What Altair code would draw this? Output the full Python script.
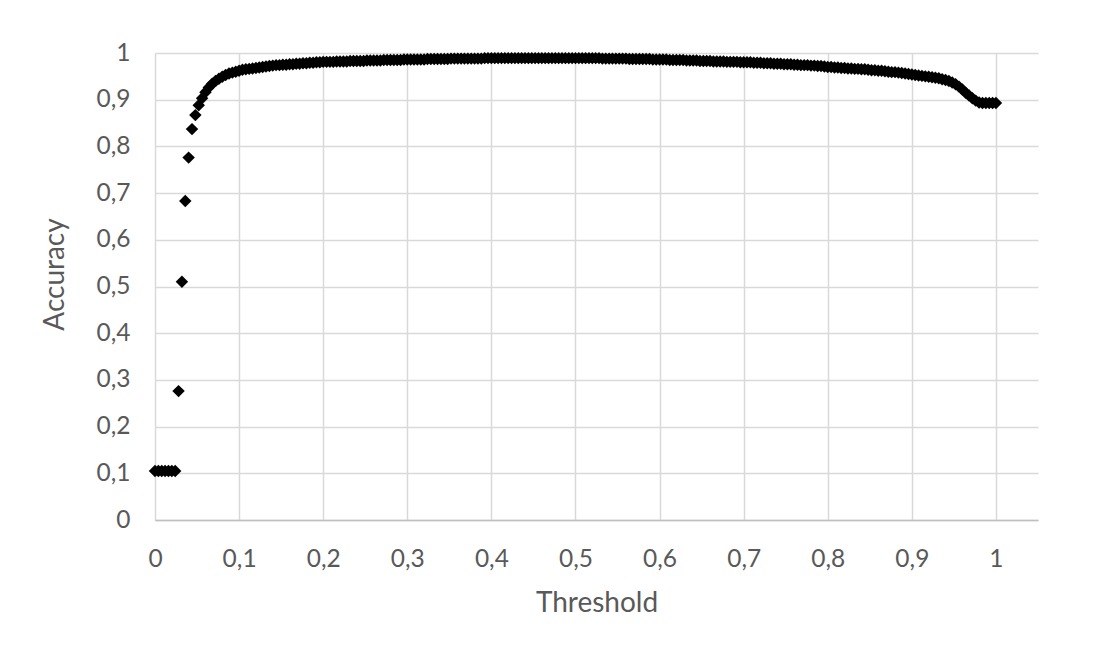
import altair as alt
import pandas as pd

thresholds = [
    0.000, 0.004, 0.008, 0.012, 0.016, 0.020, 0.024, 0.028, 0.032, 0.036, 0.040, 0.044, 0.048,
    0.052, 0.056, 0.060, 0.064, 0.068, 0.072, 0.076, 0.080, 0.084, 0.088, 0.092, 0.096, 0.100,
    0.104, 0.108, 0.112, 0.116, 0.120, 0.124, 0.128, 0.132, 0.136, 0.140, 0.144, 0.148, 0.152,
    0.156, 0.160, 0.164, 0.168, 0.172, 0.176, 0.180, 0.184, 0.188, 0.192, 0.196, 0.200,
    0.204, 0.208, 0.212, 0.216, 0.220, 0.224, 0.228, 0.232, 0.236, 0.240, 0.244, 0.248, 0.252,
    0.256, 0.260, 0.264, 0.268, 0.272, 0.276, 0.280, 0.284, 0.288, 0.292, 0.296, 0.300,
    0.304, 0.308, 0.312, 0.316, 0.320, 0.324, 0.328, 0.332, 0.336, 0.340, 0.344, 0.348, 0.352,
    0.356, 0.360, 0.364, 0.368, 0.372, 0.376, 0.380, 0.384, 0.388, 0.392, 0.396, 0.400,
    0.404, 0.408, 0.412, 0.416, 0.420, 0.424, 0.428, 0.432, 0.436, 0.440, 0.444, 0.448, 0.452,
    0.456, 0.460, 0.464, 0.468, 0.472, 0.476, 0.480, 0.484, 0.488, 0.492, 0.496, 0.500,
    0.504, 0.508, 0.512, 0.516, 0.520, 0.524, 0.528, 0.532, 0.536, 0.540, 0.544, 0.548, 0.552,
    0.556, 0.560, 0.564, 0.568, 0.572, 0.576, 0.580, 0.584, 0.588, 0.592, 0.596, 0.600,
    0.604, 0.608, 0.612, 0.616, 0.620, 0.624, 0.628, 0.632, 0.636, 0.640, 0.644, 0.648, 0.652,
    0.656, 0.660, 0.664, 0.668, 0.672, 0.676, 0.680, 0.684, 0.688, 0.692, 0.696, 0.700,
    0.704, 0.708, 0.712, 0.716, 0.720, 0.724, 0.728, 0.732, 0.736, 0.740, 0.744, 0.748, 0.752,
    0.756, 0.760, 0.764, 0.768, 0.772, 0.776, 0.780, 0.784, 0.788, 0.792, 0.796, 0.800,
    0.804, 0.808, 0.812, 0.816, 0.820, 0.824, 0.828, 0.832, 0.836, 0.840, 0.844, 0.848, 0.852,
    0.856, 0.860, 0.864, 0.868, 0.872, 0.876, 0.880, 0.884, 0.888, 0.892, 0.896, 0.900,
    0.904, 0.908, 0.912, 0.916, 0.920, 0.924, 0.928, 0.932, 0.936, 0.940, 0.944,
    0.948, 0.952, 0.956, 0.960, 0.964, 0.968, 0.972, 0.976, 0.980,
    0.984, 0.988, 0.992, 0.996, 1.000,
]

accuracy = [
    0.105, 0.105, 0.105, 0.105, 0.105, 0.105, 0.105, 0.276, 0.510, 0.683, 0.776, 0.837, 0.867,
    0.888, 0.903, 0.916, 0.926, 0.934, 0.940, 0.945, 0.949, 0.953, 0.956, 0.958, 0.960, 0.962,
    0.964, 0.965, 0.966, 0.967, 0.968, 0.969, 0.970, 0.971, 0.972, 0.973, 0.974, 0.974, 0.975,
    0.975, 0.976, 0.976, 0.977, 0.977, 0.978, 0.978, 0.979, 0.979, 0.980, 0.980, 0.981,
    0.981, 0.981, 0.981, 0.982, 0.982, 0.982, 0.982, 0.983, 0.983, 0.983, 0.983, 0.983, 0.984,
    0.984, 0.984, 0.984, 0.984, 0.985, 0.985, 0.985, 0.985, 0.985, 0.985, 0.986, 0.986,
    0.986, 0.986, 0.986, 0.986, 0.986, 0.987, 0.987, 0.987, 0.987, 0.987, 0.987, 0.987, 0.988,
    0.988, 0.988, 0.988, 0.988, 0.988, 0.988, 0.988, 0.988, 0.988, 0.989, 0.989, 0.989,
    0.989, 0.989, 0.989, 0.989, 0.989, 0.989, 0.989, 0.989, 0.989, 0.989, 0.989, 0.989, 0.989,
    0.989, 0.989, 0.989, 0.989, 0.989, 0.989, 0.989, 0.989, 0.989, 0.989, 0.989, 0.989,
    0.989, 0.989, 0.989, 0.989, 0.989, 0.989, 0.989, 0.988, 0.988, 0.988, 0.988, 0.988, 0.988,
    0.988, 0.988, 0.987, 0.987, 0.987, 0.987, 0.987, 0.987, 0.987, 0.986, 0.986, 0.986,
    0.986, 0.986, 0.985, 0.985, 0.985, 0.985, 0.985, 0.984, 0.984, 0.984, 0.984, 0.983, 0.983,
    0.983, 0.983, 0.982, 0.982, 0.982, 0.982, 0.981, 0.981, 0.981, 0.981, 0.980, 0.980,
    0.980, 0.980, 0.979, 0.979, 0.979, 0.978, 0.978, 0.978, 0.977, 0.977, 0.977, 0.976, 0.976,
    0.976, 0.975, 0.975, 0.974, 0.974, 0.974, 0.973, 0.973, 0.972, 0.972, 0.971, 0.970,
    0.970, 0.969, 0.969, 0.968, 0.968, 0.967, 0.967, 0.966, 0.966, 0.965, 0.965, 0.964, 0.963,
    0.963, 0.962, 0.962, 0.961, 0.960, 0.959, 0.959, 0.958, 0.957, 0.956, 0.955, 0.954,
    0.953, 0.952, 0.951, 0.950, 0.949, 0.948, 0.947, 0.946, 0.944, 0.942, 0.940,
    0.937, 0.933, 0.928, 0.922, 0.915, 0.909, 0.903, 0.898, 0.894,
    0.893, 0.893, 0.893, 0.893, 0.893,
]

x_ticks = [0, 0.1, 0.2, 0.3, 0.4, 0.5, 0.6, 0.7, 0.8, 0.9, 1.0]
y_ticks = [0, 0.1, 0.2, 0.3, 0.4, 0.5, 0.6, 0.7, 0.8, 0.9, 1.0]

df = pd.DataFrame({"Threshold": thresholds, "Accuracy": accuracy})

FONT = "Lato"
label_expr = "replace(format(datum.value, '~g'), '.', ',')"

chart = (
    alt.Chart(df)
    .mark_point(shape="diamond", filled=True, color="#000000", size=155, opacity=1)
    .encode(
        x=alt.X(
            "Threshold:Q",
            scale=alt.Scale(domain=[0, 1.05], nice=False, zero=False),
            axis=alt.Axis(
                values=x_ticks,
                labelExpr=label_expr,
                labelFlush=False,
                title="Threshold",
                ticks=False,
                domainColor="#bfbfbf",
                domainWidth=1.5,
                labelPadding=27,
                titlePadding=19,
            ),
        ),
        y=alt.Y(
            "Accuracy:Q",
            scale=alt.Scale(domain=[0, 1], nice=False),
            axis=alt.Axis(
                values=y_ticks,
                labelExpr=label_expr,
                labelFlush=False,
                title="Accuracy",
                ticks=False,
                domain=False,
                labelPadding=25,
                titlePadding=27,
                titleY=221,
            ),
        ),
    )
    .properties(
        width=883,
        height=467,
        autosize=alt.AutoSizeParams(type="none"),
        padding={"left": 147, "top": 45, "right": 40, "bottom": 120},
    )
    .configure_view(stroke=None)
    .configure_axis(
        grid=True,
        gridColor="#d9d9d9",
        gridWidth=1.5,
        labelFont=FONT,
        titleFont=FONT,
        labelFontSize=24.5,
        titleFontSize=28,
        labelColor="#595959",
        titleColor="#595959",
        titleFontWeight="normal",
    )
)

chart.save("out.html", embed_options={"renderer": "svg", "actions": False})
